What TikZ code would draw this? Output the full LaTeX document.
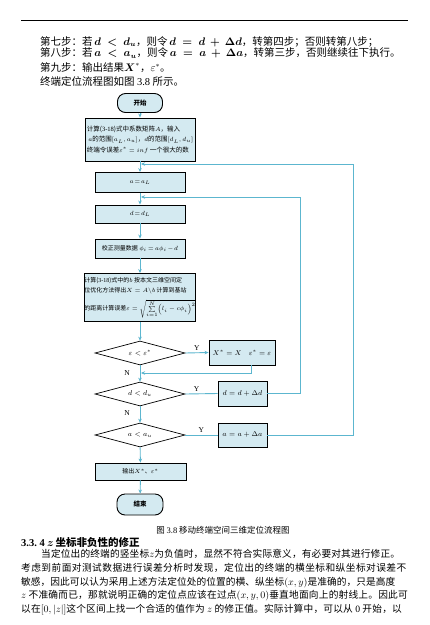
\documentclass[tikz,border=0pt]{standalone}
\usepackage{amsmath}
\usepackage{fontspec}
\setmainfont{Noto Sans CJK SC}
\newfontfamily\lat{Liberation Serif}
\usetikzlibrary{arrows.meta, positioning, shapes.geometric}
\definecolor{boxblue}{RGB}{212,234,241}
\definecolor{flowline}{RGB}{92,182,207}

\begin{document}
\begin{tikzpicture}[
    x=1pt, y=-1pt,
    every node/.style={inner sep=0pt},
    proc/.style={draw=black, line width=0.9pt, fill=boxblue, align=center, font=\fontsize{6}{7}\selectfont},
    term/.style={draw=black, line width=0.9pt, fill=boxblue, rounded corners=8pt, font=\bfseries\fontsize{6.5}{7}\selectfont},
    decide/.style={diamond, draw=black, line width=0.7pt, fill=white, aspect=3.7, minimum width=90pt, minimum height=24pt, font=\fontsize{7.5}{8}\selectfont},
    flow/.style={draw=flowline, line width=0.9pt, -{Stealth[length=4pt, width=3.5pt]}},
    link/.style={draw=flowline, line width=0.9pt},
    yn/.style={font=\lat\fontsize{7.5}{8}\selectfont},
    steptext/.style={anchor=west, font=\fontsize{10.5}{11}\selectfont},
    bodytext/.style={anchor=west, font=\fontsize{9.7}{10}\selectfont}
]

% page
\fill[white] (0,0) rectangle (430,625);
\useasboundingbox (0,0) rectangle (430,625);
\draw[line width=0.8pt] (21,20) -- (408,20);

% ============ TEXT ABOVE ============
\node[steptext] (s7) at (40,41.5) {\thickmuskip=9mu\medmuskip=7mu 第七步：若\,$\boldsymbol{d<d_u}$，则令\,$\boldsymbol{d=d+\Delta d}$，转第四步；否则转第八步；};
\node[steptext] (s8) at (40,53) {\thickmuskip=9mu\medmuskip=7mu 第八步：若\,$\boldsymbol{a<a_u}$，则令\,$\boldsymbol{a=a+\Delta a}$，转第三步，否则继续往下执行。};
\node[steptext] (s9) at (40,67.5) {第九步：输出结果$\boldsymbol{X}^*$，$\varepsilon^*$。};
\node[steptext] (s10) at (40,81) {终端定位流程图如图 {\lat 3.8} 所示。};

% ============ FLOWCHART ============
\node[term, minimum width=45pt, minimum height=19pt] (start) at (140,103) {开始};
\node[proc, minimum width=110pt, minimum height=43pt, align=left, font=\fontsize{6.5}{10.5}\selectfont] (calc) at (140,139.5)
    {计算({\lat 3-18})式中系数矩阵$A$，输入\\
     \ $a$的范围$[a_L,a_u]$，$d$的范围$[d_L,d_u]$\\
     终端令误差$\varepsilon^*=inf$ 一个很大的数};
\node[proc, minimum width=90pt, minimum height=20pt] (initA) at (140,182.5) {$a\!=\!a_L$};
\node[proc, minimum width=90pt, minimum height=18pt] (initD) at (140,214) {$d\!=\!d_L$};
\node[proc, minimum width=90pt, minimum height=19pt] (corr) at (140,248.5) {\medmuskip=2mu\thickmuskip=3mu 校正测量数据 $\phi_i=a\phi_i-d$};
\node[proc, minimum width=101pt, minimum height=48pt, align=left, font=\fontsize{6}{10}\selectfont] (solve) at (140,297.5)
    {计算({\lat 3-18})式中的$b$ 按本文三维空间定\\
     位优化方法得出$X=A\backslash b$ 计算到基站\\[5pt]
     的距离计算误差$\varepsilon=\sqrt{\sum\limits^{N}_{i=1}\Bigl(l_i-c\phi_i\Bigr)^2}$};
\node[decide] (dia1) at (140,353) {$\varepsilon<\varepsilon^*$};
\node[proc, minimum width=66pt, minimum height=25pt, font=\fontsize{7}{8}\selectfont] (best) at (242,352.5) {$X^*=X\quad\varepsilon^*=\varepsilon$};
\node[decide] (dia2) at (140,394) {$d<d_u$};
\node[proc, minimum width=49pt, minimum height=25pt, font=\fontsize{7.5}{8}\selectfont] (incd) at (242.5,393.5) {$d=d+\Delta d$};
\node[decide] (dia3) at (140,435) {$a<a_u$};
\node[proc, minimum width=49pt, minimum height=24pt, font=\fontsize{7.5}{8}\selectfont] (inca) at (242.5,435) {$a=a+\Delta a$};
\node[proc, minimum width=91pt, minimum height=17pt] (output) at (140.5,471.5) {输出$X^*$、$\varepsilon^*$};
\node[term, minimum width=46pt, minimum height=21pt] (stop) at (140,504.5) {结束};

% joints and corners
\coordinate (j1) at (141,164);
\coordinate (j2) at (141,197);
\coordinate (j3) at (141,373);
\coordinate (rA) at (353,164);
\coordinate (rD) at (300,197);

% main line
\draw[flow] (start) -- (calc);
\draw[flow] (calc) -- (initA);
\draw[flow] (initA) -- (initD);
\draw[flow] (initD) -- (corr);
\draw[flow] (corr) -- (solve);
\draw[flow] (solve) -- (dia1);
\draw[flow] (dia1) -- (dia2);
\draw[flow] (dia2) -- (dia3);
\draw[flow] (dia3) -- (output);
\draw[flow] (output) -- (stop);

% branches
\draw[flow] (dia1.east) -- node[yn, above=2pt] {Y} (best.west);
\draw[flow] ([xshift=9pt]best.south) |- (j3);
\draw[link] (dia2.east) -- node[yn, above=2pt, pos=0.35] {Y} (incd.west);
\draw[flow] (incd.east) -| (rD) -- (j2);
\draw[link] (dia3.east) -- node[yn, above=2pt] {Y} (inca.west);
\draw[flow] (inca.east) -| (rA) -- (j1);
\node[yn] (n1) at (127,373) {N};
\node[yn] (n2) at (127,413) {N};

% ============ TEXT BELOW ============
\node[font=\fontsize{8.5}{9}\selectfont] (cap) at (223,530) {图 {\lat 3.8} 移动终端空间三维定位流程图};
\node[anchor=west, font=\bfseries\fontsize{10.5}{11}\selectfont] (sec) at (21,543) {{\lat 3.3.\ 4} $\boldsymbol{z}$\,坐标非负性的修正};
\node[bodytext] (p1) at (41,554) {\addfontfeature{LetterSpace=1.4}当定位出的终端的竖坐标$z$为负值时，显然不符合实际意义，有必要对其进行修正。};
\node[bodytext] (p2) at (21,568) {\addfontfeature{LetterSpace=4.6}考虑到前面对测试数据进行误差分析时发现，定位出的终端的横坐标和纵坐标对误差不};
\node[bodytext] (p3) at (21,582.5) {\addfontfeature{LetterSpace=0.5}敏感，因此可以认为采用上述方法定位处的位置的横、纵坐标$(x,y)$是准确的，只是高度};
\node[bodytext] (p4) at (21,596) {\addfontfeature{LetterSpace=2.2}$z$ 不准确而已，那就说明正确的定位点应该在过点$(x,y,0)$垂直地面向上的射线上。因此可};
\node[bodytext] (p5) at (21,609.5) {\addfontfeature{LetterSpace=2}以在$[0,|z|]$这个区间上找一个合适的值作为 $z$ 的修正值。实际计算中，可以从 {\lat 0} 开始，以};

\end{tikzpicture}
\end{document}
